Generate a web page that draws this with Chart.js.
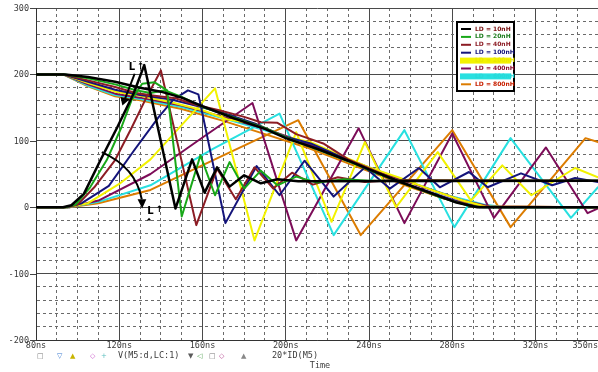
<!DOCTYPE html>
<html>
<head>
<meta charset="utf-8">
<script src="https://cdn.jsdelivr.net/npm/chart.js@4.4.0/dist/chart.umd.min.js"></script>
<style>
  html, body { margin: 0; padding: 0; background: #fff; }
  #wrap { width: 598px; height: 372px; position: relative; }
</style>
</head>
<body>
<div id="wrap"><canvas id="chart"></canvas></div>
<script>
// time in ns
const inductances = ['10nH', '20nH', '40nH', '100nH', '200nH', '400nH', '600nH', '800nH'];
const xTickValues = [80, 120, 160, 200, 240, 280, 320, 350];
const yTickValues = [300, 200, 100, 0, -100, -200];

// V(M5:d) per inductance, [time, value]
const vd10 = [[80,200],[94,200],[105,196],[118,189],[130,180],[140,174],[150,165],[160,152],[175,134],[190,118],[200,104],[215,88],[230,70],[240,57],[255,38],[270,21],[282,7],[292,0],[350,0]];
const vd20 = [[80,200],[94,200],[105,194],[118,185],[128,176],[135,172],[142,176],[150,166],[160,151],[175,135],[190,119],[200,105],[215,87],[230,69],[245,50],[260,32],[275,14],[288,2],[295,0],[350,0]];
const vd40 = [[80,200],[93,200],[105,191],[118,181],[128,172],[137,168],[147,164],[157,154],[168,146],[180,136],[188,128],[196,127],[205,110],[218,96],[230,72],[245,52],[260,32],[275,14],[290,1],[350,0]];
const vd100 = [[80,200],[93,200],[105,189],[118,177],[130,169],[145,162],[158,152],[170,142],[185,126],[200,106],[212,96],[225,78],[240,56],[255,38],[270,22],[285,6],[293,0],[350,0]];
const vd200 = [[80,200],[93,200],[105,187],[118,174],[130,168],[145,158],[160,146],[172,132],[185,126],[200,106],[212,98],[225,80],[240,60],[255,44],[270,26],[285,10],[296,1],[350,0]];
const vd400 = [[80,200],[93,200],[105,185],[118,171],[130,165],[150,153],[170,136],[190,118],[205,102],[220,84],[240,60],[255,42],[270,26],[285,10],[298,1],[350,0]];
const vd600 = [[80,200],[93,200],[105,183],[118,169],[130,163],[150,151],[170,134],[190,116],[210,96],[230,72],[250,48],[265,32],[280,16],[295,4],[305,0],[350,0]];
const vd800 = [[80,200],[93,200],[105,182],[118,167],[130,161],[150,148],[170,130],[190,110],[210,90],[230,66],[245,48],[260,30],[275,14],[290,4],[305,0],[350,0]];

// 20*ID(M5) per inductance
const id10 = [[80,0],[93,0],[97,3],[103,20],[111,71],[119,120],[127,172],[132,214],[147,-2],[155,72],[161,22],[167,60],[173,31],[180,48],[188,36],[196,42],[206,39],[350,40]];
const id20 = [[80,0],[94,0],[99,4],[106,30],[114,71],[121,120],[126,162],[131,186],[137,188],[143,176],[150,-14],[159,78],[166,18],[173,68],[180,28],[188,55],[196,33],[205,46],[215,37],[228,42],[240,40],[350,40]];
const id40 = [[80,0],[94,0],[100,4],[108,30],[118,71],[126,120],[133,165],[140,206],[157,-27],[167,58],[176,12],[185,60],[194,28],[203,52],[213,34],[225,45],[238,38],[252,41],[350,40]];
const id100 = [[80,0],[95,0],[102,6],[115,32],[127,85],[139,136],[146,162],[153,176],[158,170],[171,-24],[186,62],[197,18],[209,70],[223,16],[238,60],[250,28],[264,59],[274,30],[288,53],[297,30],[313,51],[328,33],[339,44],[350,38]];
const id200 = [[80,0],[95,0],[105,6],[120,35],[135,72],[166,179],[185,-50],[205,113],[222,-22],[238,98],[253,0],[273,83],[289,10],[304,63],[318,18],[339,59],[350,45]];
const id400 = [[80,0],[96,0],[110,10],[135,50],[160,105],[184,157],[205,-50],[235,119],[257,-24],[280,111],[300,-16],[325,90],[345,-9],[350,-2]];
const id600 = [[80,0],[96,0],[110,8],[135,33],[165,88],[197,141],[223,-42],[257,116],[281,-30],[308,104],[337,-16],[350,30]];
const id800 = [[80,0],[96,0],[110,6],[135,26],[170,78],[206,131],[236,-42],[280,116],[308,-30],[344,104],[350,98]];

const drainVoltage = [vd10, vd20, vd40, vd100, vd200, vd400, vd600, vd800];
const drainCurrent = [id10, id20, id40, id100, id200, id400, id600, id800];

const colors = ['#000000', '#18a818', '#8c1c24', '#14147a', '#f2f200', '#7c0c58', '#28e0e0', '#dc7c00'];
const legendText = ['#7a1010', '#1a7a1a', '#8c1c24', '#14147a', '#e8e800', '#8c1030', '#28d8d8', '#c82000'];

const toXY = pts => pts.map(([x, y]) => ({ x, y }));

const datasets = [];
inductances.forEach((ld, i) => {
  datasets.push({
    label: 'V(M5:d) LD = ' + ld,
    data: toXY(drainVoltage[i]),
    borderColor: colors[i],
    borderWidth: i === 0 ? 2.5 : 2
  });
  datasets.push({
    label: '20*ID(M5) LD = ' + ld,
    data: toXY(drainCurrent[i]),
    borderColor: colors[i],
    borderWidth: i === 0 ? 2.5 : 2
  });
});

const isMajorX = v => (v - 80) % 40 === 0;
const isMajorY = v => v % 100 === 0;

const labelFont = '8.5px "DejaVu Sans Mono"';

const overlay = {
  id: 'overlay',
  afterDatasetsDraw(chart) {
    const { ctx, chartArea: a, scales: { x, y } } = chart;
    const px = t => x.getPixelForValue(t);
    const py = v => y.getPixelForValue(v);
    ctx.save();

    // L arrow at the top
    ctx.strokeStyle = '#000';
    ctx.fillStyle = '#000';
    ctx.lineWidth = 2;
    ctx.beginPath();
    ctx.moveTo(px(127.4), py(201));
    ctx.lineTo(px(122.6), py(162));
    ctx.stroke();
    ctx.beginPath();
    ctx.moveTo(px(121.5), py(153));
    ctx.lineTo(px(120.6), py(166));
    ctx.lineTo(px(125.2), py(163));
    ctx.closePath();
    ctx.fill();
    ctx.font = 'bold 10px "DejaVu Sans"';
    ctx.textBaseline = 'middle';
    ctx.fillText('L', px(124.5), py(210));
    ctx.font = 'bold 9px "DejaVu Sans"';
    ctx.fillText('\u2191', px(128.5), py(212));

    // L arrow at the bottom
    ctx.lineWidth = 2;
    ctx.beginPath();
    ctx.moveTo(px(111.6), py(83));
    ctx.quadraticCurveTo(px(128), py(60), px(130.8), py(12));
    ctx.stroke();
    ctx.beginPath();
    ctx.moveTo(px(131), py(-2));
    ctx.lineTo(px(128.8), py(12));
    ctx.lineTo(px(133), py(12));
    ctx.closePath();
    ctx.fill();
    ctx.font = 'bold 10px "DejaVu Sans"';
    ctx.fillText('L', px(133.5), py(-6));
    ctx.font = 'bold 9px "DejaVu Sans"';
    ctx.fillText('\u2191', px(137.5), py(-4));
    ctx.beginPath();
    ctx.moveTo(px(134.3), py(-16));
    ctx.lineTo(px(133.2), py(-20));
    ctx.lineTo(px(135.4), py(-20));
    ctx.closePath();
    ctx.fill();

    // legend box
    const bx = a.right - 141, by = a.top + 14, bw = 57, bh = 69;
    ctx.fillStyle = '#fff';
    ctx.fillRect(bx, by, bw, bh);
    ctx.strokeStyle = '#000';
    ctx.lineWidth = 2;
    ctx.strokeRect(bx, by, bw, bh);
    ctx.font = 'bold 6px "DejaVu Sans"';
    ctx.textBaseline = 'middle';
    inductances.forEach((ld, i) => {
      const ly = by + 7 + i * 7.9;
      if (i === 4 || i === 6) {
        ctx.fillStyle = colors[i];
        ctx.fillRect(bx + 3, ly - 3, bw - 6, 6);
      }
      ctx.strokeStyle = colors[i];
      ctx.lineWidth = 2;
      ctx.beginPath();
      ctx.moveTo(bx + 4, ly);
      ctx.lineTo(bx + 14, ly);
      ctx.stroke();
      ctx.fillStyle = legendText[i];
      ctx.fillText('LD = ' + ld, bx + 18, ly);
    });
    ctx.restore();
  },
  afterDraw(chart) {
    const { ctx, chartArea: a, scales: { x, y } } = chart;
    ctx.save();
    ctx.font = labelFont;
    ctx.fillStyle = '#3a3a3a';
    ctx.strokeStyle = '#444';
    ctx.lineWidth = 1;

    // y labels with small ticks
    ctx.textAlign = 'right';
    ctx.textBaseline = 'middle';
    yTickValues.forEach(v => {
      const yy = Math.round(y.getPixelForValue(v)) + 0.5;
      ctx.fillText(String(v), a.left - 7, yy);
      ctx.beginPath();
      ctx.moveTo(a.left - 6, yy);
      ctx.lineTo(a.left, yy);
      ctx.stroke();
    });

    // x labels
    ctx.textBaseline = 'top';
    xTickValues.forEach((v, i) => {
      const xx = x.getPixelForValue(v);
      ctx.textAlign = i === xTickValues.length - 1 ? 'right' : 'center';
      ctx.fillText(v + 'ns', i === xTickValues.length - 1 ? a.right : xx, a.bottom + 2);
    });

    // trace legend line under the axis
    const rowY = a.bottom + 16;
    ctx.textAlign = 'left';
    ctx.textBaseline = 'middle';
    const marks = [
      ['\u25A1', 37, '#777'], ['\u25BD', 57, '#3a7ad0'], ['\u25B2', 70, '#c8b400'],
      ['\u25C7', 90, '#d070d0'], ['+', 101, '#60c0c0'],
      ['\u25BC', 188, '#5a5a5a'], ['\u25C1', 197, '#50a050'], ['\u25A1', 209, '#777'],
      ['\u25C7', 219, '#c060a0'], ['\u25B2', 241, '#888']
    ];
    ctx.font = '7px "DejaVu Sans"';
    marks.forEach(([s, mx, c]) => {
      ctx.fillStyle = c;
      ctx.fillText(s, mx, rowY);
    });
    ctx.font = labelFont;
    ctx.fillStyle = '#3a3a3a';
    ctx.fillText('V(M5:d,LC:1)', 118, rowY);
    ctx.fillText('20*ID(M5)', 272, rowY);
    ctx.textAlign = 'center';
    ctx.fillText('Time', 320, a.bottom + 26);
    ctx.restore();
  }
};

new Chart(document.getElementById('chart'), {
  type: 'line',
  data: { datasets },
  options: {
    responsive: true,
    maintainAspectRatio: false,
    animation: false,
    layout: { padding: { left: 36, right: 0, top: 8, bottom: 32 } },
    plugins: { legend: { display: false }, tooltip: { enabled: false } },
    elements: {
      point: { radius: 0 },
      line: { tension: 0, borderJoinStyle: 'round', borderCapStyle: 'round' }
    },
    scales: {
      x: {
        type: 'linear',
        min: 80,
        max: 350,
        ticks: { display: false, stepSize: 10 },
        grid: {
          drawTicks: false,
          color: c => (c.tick && isMajorX(c.tick.value)) ? '#4a4a4a' : '#6a6a6a',
          lineWidth: 1
        },
        border: {
          display: true,
          color: '#333',
          width: 1,
          dash: c => (c.tick && !isMajorX(c.tick.value)) ? [3, 3] : []
        }
      },
      y: {
        min: -200,
        max: 300,
        ticks: { display: false, stepSize: 20 },
        grid: {
          drawTicks: false,
          color: c => (c.tick && isMajorY(c.tick.value)) ? '#4a4a4a' : '#6a6a6a',
          lineWidth: 1
        },
        border: {
          display: true,
          color: '#333',
          width: 1,
          dash: c => (c.tick && !isMajorY(c.tick.value)) ? [3, 3] : []
        }
      }
    }
  },
  plugins: [overlay]
});
</script>
</body>
</html>
